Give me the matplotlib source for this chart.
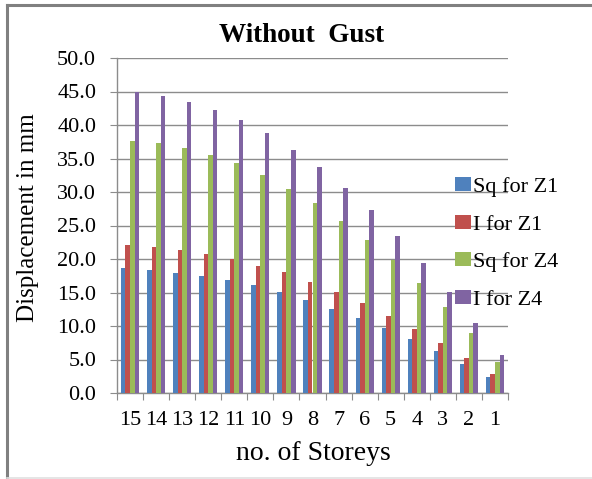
import matplotlib
matplotlib.use("Agg")
import matplotlib.pyplot as plt
from matplotlib.lines import Line2D
import numpy as np

storeys = ["15", "14", "13", "12", "11", "10", "9", "8", "7", "6", "5", "4", "3", "2", "1"]
sq_z1 = [18.6, 18.4, 17.9, 17.5, 16.9, 16.1, 15.1, 13.9, 12.6, 11.2, 9.7, 8.0, 6.3, 4.4, 2.4]
i_z1 = [22.1, 21.8, 21.4, 20.8, 20.0, 19.0, 18.0, 16.6, 15.1, 13.4, 11.5, 9.6, 7.5, 5.2, 2.9]
sq_z4 = [37.6, 37.3, 36.5, 35.5, 34.3, 32.6, 30.5, 28.4, 25.7, 22.9, 19.8, 16.4, 12.8, 8.9, 4.7]
i_z4 = [44.9, 44.4, 43.5, 42.2, 40.7, 38.8, 36.3, 33.7, 30.6, 27.3, 23.4, 19.4, 15.1, 10.5, 5.7]

series = [
    ("Sq for Z1", sq_z1, "#4F81BD"),
    ("I for Z1", i_z1, "#C0504D"),
    ("Sq for Z4", sq_z4, "#9BBB59"),
    ("I for Z4", i_z4, "#8064A2"),
]

plt.rcParams["font.family"] = ["Liberation Serif", "DejaVu Serif"]

W, H = 592, 479
fig = plt.figure(figsize=(W / 100, H / 100), dpi=100)
ax = fig.add_axes([117 / W, 1 - 393 / H, (508 - 117) / W, (393 - 58) / H])

x = np.arange(len(storeys))
bw = 0.175
for k, (name, vals, col) in enumerate(series):
    offs = (k - 1.5) * bw
    ax.bar(x + offs, vals, width=bw, color=col, edgecolor="none", zorder=3, label=name)

ax.set_xlim(-0.5, len(storeys) - 0.5)
ax.set_ylim(0, 50)
yt = np.arange(0, 50.1, 5)
ax.set_yticks(yt)
ax.set_yticklabels([f"{v:.1f}" for v in yt])
ax.yaxis.grid(True, color="#8c8c8c", linewidth=1.0, zorder=0)
ax.set_axisbelow(True)

ax.set_xticks(np.arange(-0.5, len(storeys), 1.0))
ax.set_xticklabels([])
ax.set_xticks(x, minor=True)
ax.set_xticklabels(storeys, minor=True)
ax.tick_params(axis="x", which="major", length=5, color="#8c8c8c", direction="out")
ax.tick_params(axis="x", which="minor", length=0, pad=13, labelsize=16)
ax.tick_params(axis="y", length=5, color="#8c8c8c", direction="out", labelsize=16, pad=10)

for s in ("top", "right"):
    ax.spines[s].set_visible(False)
for s in ("left", "bottom"):
    ax.spines[s].set_color("#8c8c8c")
    ax.spines[s].set_linewidth(1.0)

fig.text(313 / W, 1 - 453 / H, "no. of Storeys", ha="center", va="center", fontsize=20)
fig.text(28 / W, 1 - 218 / H, "Displacement in mm", ha="center", va="center",
         rotation=90, fontsize=18)
fig.text(302 / W, 1 - 36 / H, "Without  Gust", ha="center", va="center",
         fontsize=19.5, fontweight="bold")

ax.legend(loc="upper left", bbox_to_anchor=(455 / W, 1 - 177 / H),
          bbox_transform=fig.transFigure, frameon=False, fontsize=16,
          handlelength=0.7, handleheight=0.6, handletextpad=0.1,
          labelspacing=0.8, borderaxespad=0, borderpad=0)

# outer chart frame
fig.add_artist(Line2D([7 / W, 7 / W], [0.0, 1 - 5 / H], transform=fig.transFigure,
                      color="#808080", linewidth=2.2))
fig.add_artist(Line2D([7 / W, 1.0], [1 - 5 / H, 1 - 5 / H], transform=fig.transFigure,
                      color="#808080", linewidth=2.2))
fig.add_artist(Line2D([7 / W, 1.0], [1.5 / H, 1.5 / H], transform=fig.transFigure,
                      color="#e0e0e0", linewidth=1.2))

fig.savefig("out.png", dpi=100, facecolor="white")
